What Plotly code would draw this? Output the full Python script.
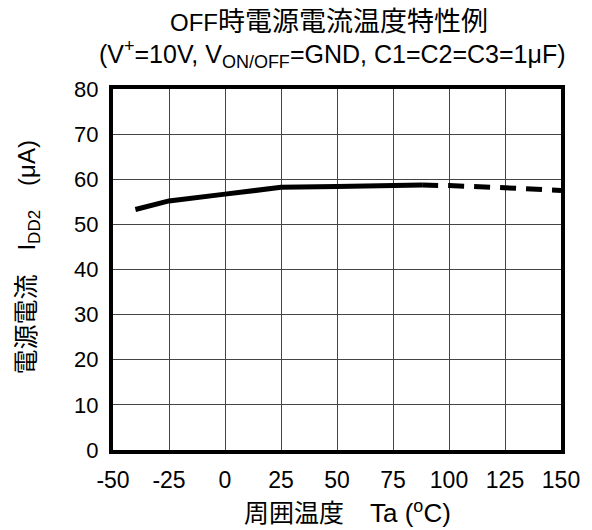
import plotly.graph_objects as go

solid_x = [-40, -25, 0, 25, 50, 75, 88]
solid_y = [53.3, 55.2, 56.7, 58.2, 58.4, 58.6, 58.7]
dash_x = [88, 100, 125, 150]
dash_y = [58.7, 58.6, 58.1, 57.5]

x_ticks = [-50, -25, 0, 25, 50, 75, 100, 125, 150]
y_ticks = [0, 10, 20, 30, 40, 50, 60, 70, 80]

FONT = "Liberation Sans, Arial, Noto Sans CJK JP, sans-serif"


def cjk(s, size):
    return "<span style=\"font-family:'Noto Sans CJK JP';font-size:%dpx\">%s</span>" % (size, s)


def lat(s, size):
    return "<span style=\"font-size:%dpx\">%s</span>" % (size, s)


W, H = 592, 530
L, R, T, B = 113, 23, 89, 80
PW, PH = W - L - R, H - T - B


def px(x):
    return (x - L) / PW


def py(y):
    return (H - B - y) / PH


fig = go.Figure()
fig.add_trace(go.Scatter(x=solid_x, y=solid_y, mode="lines",
                         line=dict(color="black", width=5), showlegend=False))
fig.add_trace(go.Scatter(x=dash_x, y=dash_y, mode="lines",
                         line=dict(color="black", width=5, dash="16px,10px"), showlegend=False))

title_txt = lat("OFF", 24) + cjk("時電源電流温度特性例", 27)
sub_txt = (lat("(V", 25) + "<sup>" + lat("+", 18) + "</sup>" + lat("=10V, V", 25)
           + "<sub>" + lat("ON/OFF", 18) + "</sub>" + lat("=GND, C1=C2=C3=1μF)", 25))
xt_txt = cjk("周囲温度", 25) + lat("　Ta (", 26) + "<sup>" + lat("o", 18) + "</sup>" + lat("C)", 26)
yt_txt = (cjk("電源電流", 25) + lat("　I", 24) + "<sub>" + lat("DD2", 17) + "</sub>"
          + lat("　(μA)", 24))

fig.update_layout(
    width=W, height=H,
    margin=dict(l=L, r=R, t=T, b=B),
    paper_bgcolor="white", plot_bgcolor="white",
    font=dict(family=FONT, size=22, color="black"),
    xaxis=dict(range=[-50, 150], tickvals=x_ticks, ticktext=[str(v) for v in x_ticks],
               showgrid=True, gridcolor="#444444", gridwidth=1,
               showline=True, linecolor="black", linewidth=4, mirror=True,
               ticks="", zeroline=False, fixedrange=True, ticklabelstandoff=6,
               tickfont=dict(size=23)),
    yaxis=dict(range=[0, 80], tickvals=y_ticks, ticktext=[str(v) for v in y_ticks],
               showgrid=True, gridcolor="#444444", gridwidth=1,
               showline=True, linecolor="black", linewidth=4, mirror=True,
               ticks="", zeroline=False, fixedrange=True, ticklabelstandoff=6,
               tickfont=dict(size=22)),
    annotations=[
        dict(text=title_txt, x=px(333), y=py(19), xref="paper", yref="paper",
             showarrow=False, font=dict(size=24), xanchor="center", yanchor="middle"),
        dict(text=sub_txt, x=px(336), y=py(54), xref="paper", yref="paper", showarrow=False,
             font=dict(size=25), xanchor="center", yanchor="middle"),
        dict(text=xt_txt, x=px(352), y=py(511), xref="paper", yref="paper",
             showarrow=False, font=dict(size=25), xanchor="center", yanchor="middle"),
        dict(text=yt_txt, x=px(23), y=py(257), xref="paper", yref="paper",
             showarrow=False, font=dict(size=24), textangle=-90, xanchor="center",
             yanchor="middle"),
    ],
)

fig.write_html("out.html")
